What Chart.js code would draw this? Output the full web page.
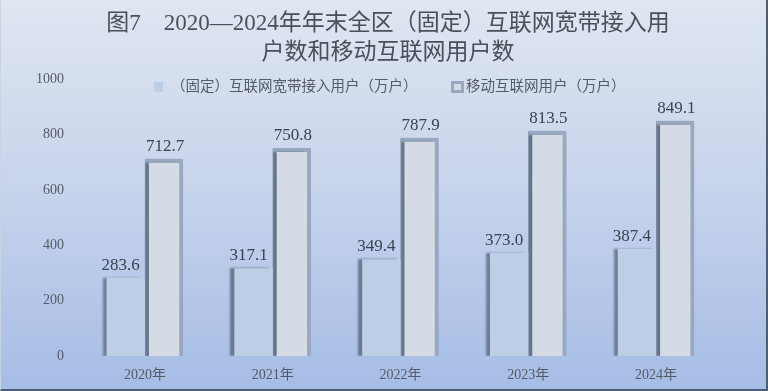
<!DOCTYPE html>
<html>
<head>
<meta charset="utf-8">
<script src="https://cdn.jsdelivr.net/npm/chart.js@4.4.1/dist/chart.umd.min.js"></script>
<style>
  html, body { margin: 0; padding: 0; }
  #wrap {
    width: 768px; height: 391px; box-sizing: border-box;
    background: linear-gradient(180deg, #e0e6f1 0%, #c9d5ec 45%, #a6bde6 100%);
    border-left: 1px solid #c9d3e3;
    border-right: 2px solid #4d5d72;
    border-bottom: 2px solid #4d5d72;
    position: relative;
  }
  canvas { display: block; }
</style>
</head>
<body>
<div id="wrap"><canvas id="c" width="765" height="389"></canvas></div>
<script>
// data
const years = ['2020年', '2021年', '2022年', '2023年', '2024年'];
const broadband = [283.6, 317.1, 349.4, 373.0, 387.4];
const mobile = [712.7, 750.8, 787.9, 813.5, 849.1];
const seriesNames = ['（固定）互联网宽带接入用户（万户）', '移动互联网用户（万户）'];
const titleLines = ['图7　2020—2024年年末全区（固定）互联网宽带接入用', '户数和移动互联网用户数'];

const FONT = "'Liberation Serif', 'Noto Sans CJK SC', serif";

// bar shadow on the left side
const shadowPlugin = {
  id: 'barShadow',
  beforeDatasetsDraw(chart) {
    const ctx = chart.ctx;
    ctx.save();
    ctx.shadowColor = 'rgba(80,95,115,0.75)';
    ctx.shadowOffsetX = -4;
    ctx.shadowOffsetY = 0;
    ctx.shadowBlur = 2;
  },
  afterDatasetsDraw(chart) {
    chart.ctx.restore();
  }
};

// title, legend and value labels
const labelsPlugin = {
  id: 'valueLabels',
  afterDatasetsDraw(chart) {
    const ctx = chart.ctx;
    ctx.save();
    ctx.font = '17px ' + FONT;
    ctx.fillStyle = '#3a4352';
    ctx.textAlign = 'center';
    ctx.textBaseline = 'bottom';
    chart.data.datasets.forEach((ds, di) => {
      const meta = chart.getDatasetMeta(di);
      meta.data.forEach((bar, i) => {
        const dx = di === 0 ? -5 : 1;
        ctx.fillText(ds.data[i].toFixed(1), bar.x + dx, bar.y - 4);
      });
    });

    // title
    ctx.font = '23px ' + FONT;
    ctx.fillStyle = '#4a4f58';
    ctx.textBaseline = 'middle';
    ctx.fillText(titleLines[0], 387, 24);
    ctx.fillText(titleLines[1], 387, 53);

    // legend
    const ly = 87;
    ctx.font = '14.5px ' + FONT;
    ctx.textAlign = 'left';
    const ds0 = chart.data.datasets[0], ds1 = chart.data.datasets[1];
    ctx.fillStyle = ds0.backgroundColor;
    ctx.fillRect(153, ly - 5, 9, 10);
    ctx.fillStyle = '#555b68';
    ctx.fillText(ds0.label, 170, ly);
    ctx.fillStyle = ds1.borderColor;
    ctx.fillRect(450, ly - 6, 13, 12);
    ctx.fillStyle = ds1.backgroundColor;
    ctx.fillRect(453, ly - 3, 7, 6);
    ctx.fillStyle = '#555b68';
    ctx.fillText(ds1.label, 465, ly);
    ctx.restore();
  }
};

new Chart(document.getElementById('c'), {
  type: 'bar',
  data: {
    labels: years,
    datasets: [
      {
        label: seriesNames[0],
        data: broadband,
        backgroundColor: '#bccfe6',
        borderWidth: 0,
        categoryPercentage: 0.6,
        barPercentage: 1.0
      },
      {
        label: seriesNames[1],
        data: mobile,
        backgroundColor: '#d4dbe4',
        borderColor: '#97a8bf',
        borderWidth: 4,
        categoryPercentage: 0.6,
        barPercentage: 1.0
      }
    ]
  },
  options: {
    responsive: false,
    animation: false,
    layout: { padding: { left: 26, right: 46, top: 79, bottom: 2 } },
    scales: {
      x: {
        grid: { display: false },
        border: { display: false },
        ticks: { color: '#555b66', font: { family: FONT, size: 14 }, padding: 3 }
      },
      y: {
        min: 0, max: 1000,
        grid: { display: false },
        border: { display: false },
        ticks: {
          stepSize: 200, color: '#555b66', font: { family: FONT, size: 14 }, padding: 9,
          callback: v => String(v)
        }
      }
    },
    plugins: {
      title: { display: false },
      legend: { display: false },
      tooltip: { enabled: false }
    }
  },
  plugins: [shadowPlugin, labelsPlugin]
});
</script>
</body>
</html>
